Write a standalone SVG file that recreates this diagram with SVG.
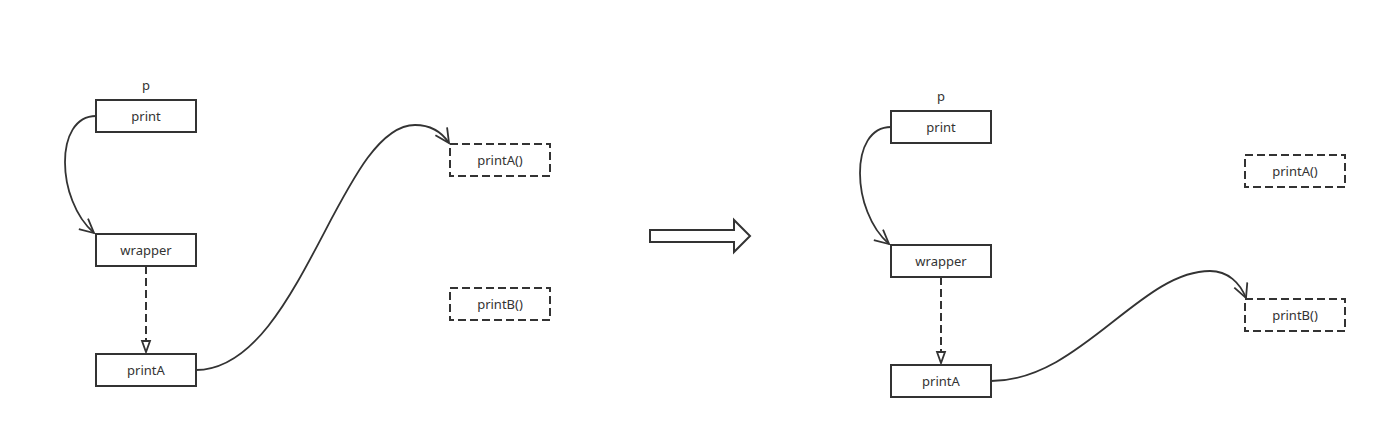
<svg xmlns="http://www.w3.org/2000/svg" width="1376" height="429" viewBox="0 0 1376 429">
<style>
.box{fill:#fff;stroke:#333;stroke-width:2}
.dbox{fill:#fff;stroke:#333;stroke-width:2;stroke-dasharray:8 4}
.t{font-family:"Noto Sans","Open Sans",sans-serif;font-size:13px;fill:#333;text-anchor:middle;dominant-baseline:central}
.c{fill:none;stroke:#333;stroke-width:1.8}
.d{fill:none;stroke:#333;stroke-width:2;stroke-dasharray:8 4}
</style>
<defs>
<marker id="open" markerUnits="userSpaceOnUse" markerWidth="20" markerHeight="20" refX="15" refY="8" orient="auto" viewBox="0 0 20 20">
<path d="M1,1 L15,8 L1,15" fill="none" stroke="#333" stroke-width="1.8"/>
</marker>
<marker id="tri" markerUnits="userSpaceOnUse" markerWidth="16" markerHeight="16" refX="12" refY="5" orient="auto" viewBox="0 0 16 12">
<path d="M1,1 L12,5 L1,9 Z" fill="#fff" stroke="#333" stroke-width="1.8"/>
</marker>
</defs>
<rect width="1376" height="429" fill="#fff"/>
<g id="connectors">
<path class="c" d="M96,116 C54,116 56,200 94,233" marker-end="url(#open)"/>
<path class="d" d="M146,266 L146,352" marker-end="url(#tri)"/>
<path class="c" d="M196,370 C300,370 340,125 415,125 C432,125 443,134 449,143" marker-end="url(#open)"/>
<path class="c" d="M891,127 C849,127 851,211 889,244" marker-end="url(#open)"/>
<path class="d" d="M941,277 L941,363" marker-end="url(#tri)"/>
<path class="c" d="M991,381 C1080,381 1140,271 1210,271 C1228,271 1240,283 1246,298" marker-end="url(#open)"/>
<path id="bigarrow" d="M650,230 L734,230 L734,220 L750,236 L734,252 L734,242 L650,242 Z" fill="#fff" stroke="#333" stroke-width="2"/>
</g>
<g id="p1"><text class="t" x="146" y="85">p</text></g>
<g id="print1"><rect class="box" x="96" y="100" width="100" height="32"/><text class="t" x="146" y="116">print</text></g>
<g id="wrapper1"><rect class="box" x="96" y="234" width="100" height="32"/><text class="t" x="146" y="250">wrapper</text></g>
<g id="printA1"><rect class="box" x="96" y="354" width="100" height="32"/><text class="t" x="146" y="370">printA</text></g>
<g id="printAf1"><rect class="dbox" x="450" y="144" width="100" height="32"/><text class="t" x="500" y="160">printA()</text></g>
<g id="printBf1"><rect class="dbox" x="450" y="288" width="100" height="32"/><text class="t" x="500" y="304">printB()</text></g>
<g id="p2"><text class="t" x="941" y="96">p</text></g>
<g id="print2"><rect class="box" x="891" y="111" width="100" height="32"/><text class="t" x="941" y="127">print</text></g>
<g id="wrapper2"><rect class="box" x="891" y="245" width="100" height="32"/><text class="t" x="941" y="261">wrapper</text></g>
<g id="printA2"><rect class="box" x="891" y="365" width="100" height="32"/><text class="t" x="941" y="381">printA</text></g>
<g id="printAf2"><rect class="dbox" x="1245" y="155" width="100" height="32"/><text class="t" x="1295" y="171">printA()</text></g>
<g id="printBf2"><rect class="dbox" x="1245" y="299" width="100" height="32"/><text class="t" x="1295" y="315">printB()</text></g>
</svg>
